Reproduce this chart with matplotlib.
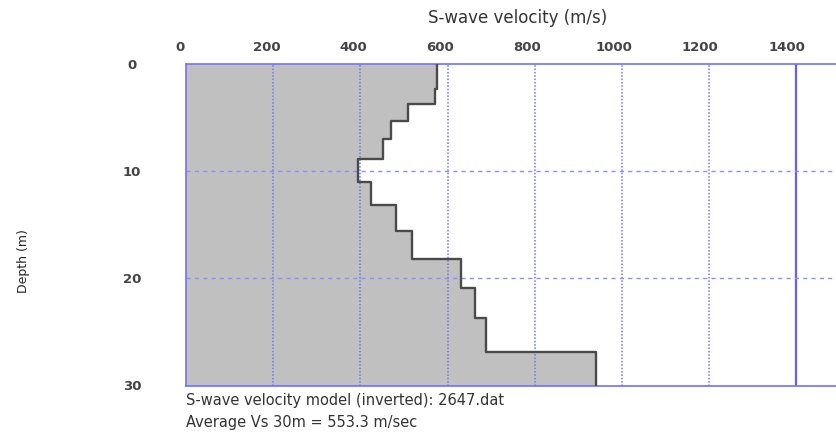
import matplotlib
matplotlib.use("Agg")
import matplotlib.pyplot as plt
import numpy as np

# Layer model
layer_bottoms = [2.3, 3.7, 5.3, 7.0, 8.9, 11.0, 13.2, 15.6, 18.2, 20.9, 23.7, 26.9, 30.0]
velocities = [575, 571, 510, 470, 451, 395, 424, 482, 519, 630, 663, 688, 940]
x_ticks = [0, 200, 400, 600, 800, 1000, 1200, 1400]
y_ticks = [0, 10, 20, 30]
model_name = "2647.dat"
avg_vs30 = 553.3

plt.rcParams['font.family'] = ['DejaVu Sans']

W, H = 836, 432
fig = plt.figure(figsize=(W / 100, H / 100), dpi=100)

def fx(px):
    return px / W

def fy(py):
    return 1 - py / H

ax_left, ax_right, ax_top, ax_bot = 186, 836, 64, 385.5
ax = fig.add_axes([fx(ax_left), fy(ax_bot), fx(ax_right - ax_left), fy(ax_top) - fy(ax_bot)])

x_max = (ax_right - ax_left) / 87.2 * 200
ax.set_xlim(0, x_max)
ax.set_ylim(30, 0)

# step profile
tops = [0] + layer_bottoms[:-1]
ys, xs = [], []
for t, b, v in zip(tops, layer_bottoms, velocities):
    ys += [t, b]
    xs += [v, v]
ax.fill_betweenx(ys, 0, xs, color='#c0c0c0', lw=0, zorder=1)
ax.plot(xs + [xs[-1]], ys + [30], color='#4a4a4a', lw=1.7, zorder=3)

grid_c = '#7373ff'
for xv in x_ticks[1:-1]:
    ax.axvline(xv, color=grid_c, lw=1.1, ls=(0, (1, 1.2)), zorder=2)
ax.axvline(x_ticks[-1], color='#6060ff', lw=1.6, zorder=2)
for yv in y_ticks[1:-1]:
    ax.axhline(yv, color='#8c8cff', lw=1.0, ls=(0, (3, 3)), zorder=2)

for s in ['left', 'top', 'bottom']:
    ax.spines[s].set_color('#7070ff')
    ax.spines[s].set_linewidth(1.2)
ax.spines['right'].set_visible(False)

ax.set_xticks([])
ax.set_yticks(y_ticks)
ax.set_yticklabels([str(v) for v in y_ticks], fontsize=9.5, fontweight='bold',
                   color='#444444', ha='center')
ax.tick_params(axis='y', length=0, pad=39)

# separate scale for the top tick labels (slightly offset as in reference)
lab_l, lab_r = 180, 787
ax2 = fig.add_axes([fx(lab_l), fy(ax_bot), fx(lab_r - lab_l), fy(ax_top) - fy(ax_bot)])
ax2.patch.set_visible(False)
for s in ax2.spines.values():
    s.set_visible(False)
ax2.set_xlim(0, 1400)
ax2.set_xticks(x_ticks)
ax2.set_xticklabels([str(v) for v in x_ticks], fontsize=9.5, fontweight='bold', color='#444444')
ax2.xaxis.tick_top()
ax2.tick_params(axis='x', length=0, pad=7)
ax2.set_yticks([])

fig.text(fx(518), fy(18), "S-wave velocity (m/s)", ha='center', va='center',
         fontsize=12, color='#333333')
fig.text(fx(24), fy(261), "Depth (m)", ha='center', va='center', rotation=90,
         fontsize=9, color='#222222')
fig.text(fx(186), fy(400), f"S-wave velocity model (inverted): {model_name}",
         ha='left', va='center', fontsize=10.5, color='#333333')
fig.text(fx(186), fy(422), f"Average Vs 30m = {avg_vs30} m/sec",
         ha='left', va='center', fontsize=10.5, color='#333333')

fig.savefig("out.png", dpi=100)
